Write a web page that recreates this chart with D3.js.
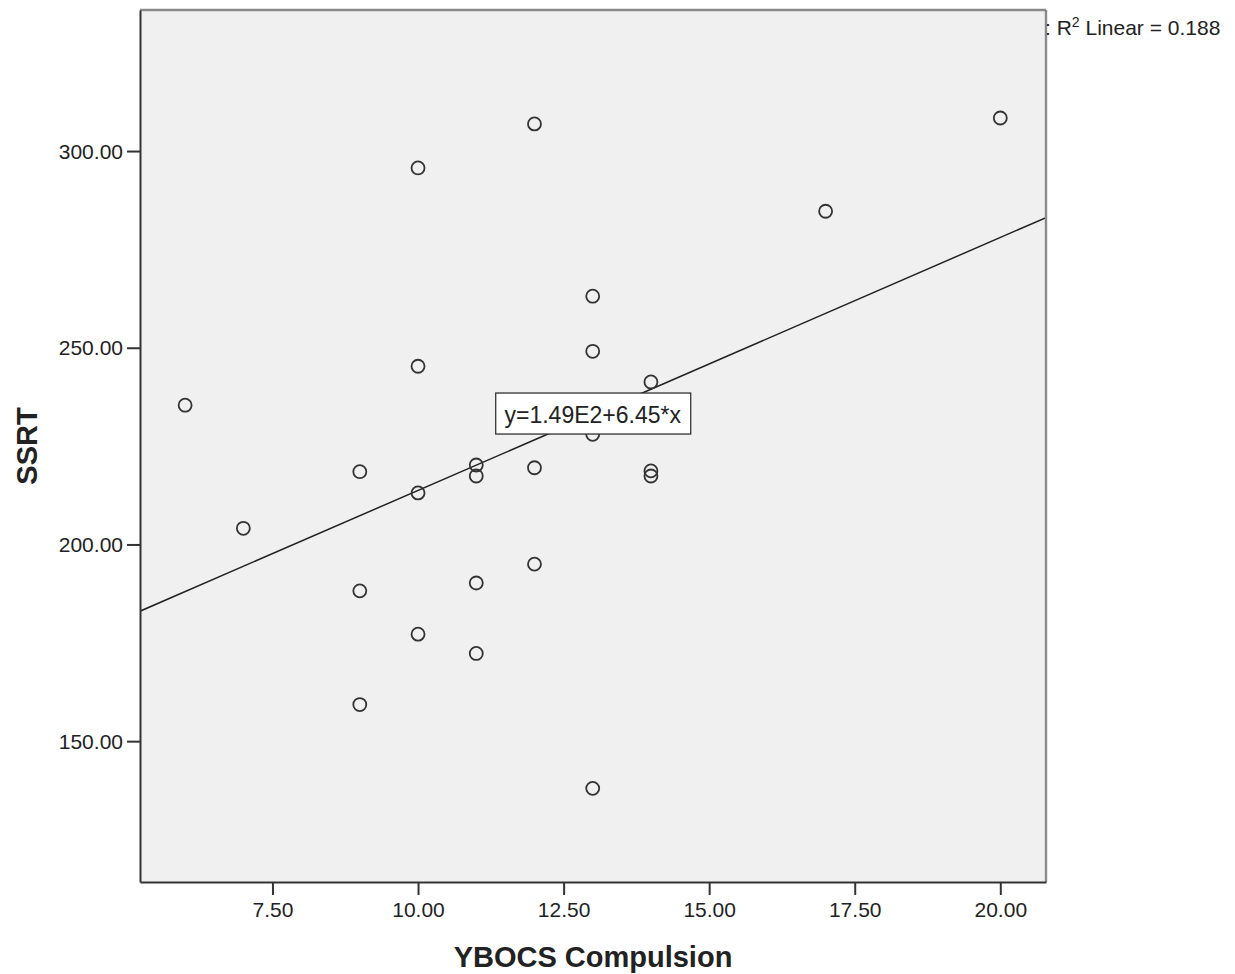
<!DOCTYPE html>
<html>
<head>
<meta charset="utf-8">
<script src="https://d3js.org/d3.v7.min.js"></script>
<style>
  body { margin: 0; background: #ffffff; }
  text { font-family: "Liberation Sans", Arial, sans-serif; fill: #222; }
</style>
</head>
<body>
<div id="chart"></div>
<script>

var ybocs = [6, 7, 9, 9, 9, 10, 10, 10, 10, 11, 11, 11, 11, 12, 12, 12, 13, 13, 13, 13, 14, 14, 14, 17, 20];
var ssrt = [235.4, 204.1, 218.5, 188.2, 159.3, 295.7, 245.3, 213.1, 177.2, 220.2, 217.4, 190.2, 172.3,
            306.9, 219.5, 195.0, 263.1, 249.1, 228.0, 138.0, 241.3, 218.7, 217.4, 284.7, 308.4];
var xTicks = [7.5, 10, 12.5, 15, 17.5, 20];
var yTicks = [150, 200, 250, 300];
var fitLabel = "y=1.49E2+6.45*x";
var r2Label = "0.188";

var points = ybocs.map(function(x, i) { return {x: x, y: ssrt[i]}; });

var svgWidth = 1235, svgHeight = 974;
var margin = {top: 10, right: 189, bottom: 92, left: 140};
var width = svgWidth - margin.left - margin.right;
var height = svgHeight - margin.top - margin.bottom;

var svg = d3.select("#chart").append("svg")
    .attr("width", svgWidth)
    .attr("height", svgHeight);

var g = svg.append("g")
    .attr("transform", "translate(" + margin.left + "," + margin.top + ")");

var x = d3.scaleLinear().domain([5.225, 20.785]).range([0, width]);
var y = d3.scaleLinear().domain([114.2, 335.85]).range([height, 0]);

g.append("rect")
    .attr("width", width)
    .attr("height", height)
    .attr("fill", "#f0f0f0");

g.append("clipPath").attr("id", "plotClip")
  .append("rect").attr("width", width).attr("height", height);

// least squares fit line
var mx = d3.mean(points, function(d) { return d.x; });
var my = d3.mean(points, function(d) { return d.y; });
var sxy = d3.sum(points, function(d) { return (d.x - mx) * (d.y - my); });
var sxx = d3.sum(points, function(d) { return (d.x - mx) * (d.x - mx); });
var slope = sxy / sxx, intercept = my - slope * mx;
var xd = x.domain();

g.append("line")
    .attr("clip-path", "url(#plotClip)")
    .attr("x1", x(xd[0])).attr("y1", y(intercept + slope * xd[0]))
    .attr("x2", x(xd[1])).attr("y2", y(intercept + slope * xd[1]))
    .attr("stroke", "#222")
    .attr("stroke-width", 1.5);

g.selectAll(".dot")
    .data(points)
    .enter().append("circle")
    .attr("class", "dot")
    .attr("cx", function(d) { return x(d.x); })
    .attr("cy", function(d) { return y(d.y); })
    .attr("r", 6.5)
    .attr("fill", "none")
    .attr("stroke", "#333")
    .attr("stroke-width", 1.8);

// equation label box
var lx = x(13), ly = y(intercept + slope * 13) - 1;
var label = g.append("g").attr("transform", "translate(" + lx + "," + ly + ")");
label.append("rect")
    .attr("x", -97).attr("y", -20.5)
    .attr("width", 195).attr("height", 41)
    .attr("fill", "#fff")
    .attr("stroke", "#333")
    .attr("stroke-width", 1.3);
label.append("text")
    .attr("text-anchor", "middle")
    .attr("y", 9)
    .style("font-size", "23px")
    .text(fitLabel);

// frame: light top/right, dark axes
g.append("line").attr("x1", 0).attr("x2", width).attr("y1", 0).attr("y2", 0)
    .attr("stroke", "#8a8a8a").attr("stroke-width", 2.4);
g.append("line").attr("x1", width).attr("x2", width).attr("y1", 0).attr("y2", height)
    .attr("stroke", "#8a8a8a").attr("stroke-width", 2.4);

var xAxis = g.append("g")
    .attr("transform", "translate(0," + height + ")")
    .call(d3.axisBottom(x).tickValues(xTicks).tickFormat(d3.format(".2f"))
        .tickSize(13).tickSizeOuter(0).tickPadding(7));

var yAxis = g.append("g")
    .call(d3.axisLeft(y).tickValues(yTicks).tickFormat(d3.format(".2f"))
        .tickSize(13).tickSizeOuter(0).tickPadding(4));

[xAxis, yAxis].forEach(function(ax) {
    ax.select(".domain").attr("stroke", "#333").attr("stroke-width", 2);
    ax.selectAll(".tick line").attr("stroke", "#333").attr("stroke-width", 2);
    ax.selectAll(".tick text")
        .attr("fill", "#333")
        .style("font-family", "'Liberation Sans', Arial, sans-serif")
        .style("font-size", "21px");
});
yAxis.selectAll(".tick text").attr("dy", "0.34em");

svg.append("text")
    .attr("x", margin.left + width / 2)
    .attr("y", 967)
    .attr("text-anchor", "middle")
    .style("font-size", "29px")
    .style("font-weight", "bold")
    .text("YBOCS Compulsion");

svg.append("text")
    .attr("transform", "translate(37," + (margin.top + height / 2) + ") rotate(-90)")
    .attr("text-anchor", "middle")
    .style("font-size", "29px")
    .style("font-weight", "bold")
    .text("SSRT");

var r2 = svg.append("text")
    .attr("x", 1045)
    .attr("y", 35)
    .style("font-size", "21px");
r2.append("tspan").text(": R");
r2.append("tspan").attr("dy", -8).style("font-size", "14px").text("2");
r2.append("tspan").attr("dy", 8).text(" Linear = " + r2Label);

</script>
</body>
</html>
